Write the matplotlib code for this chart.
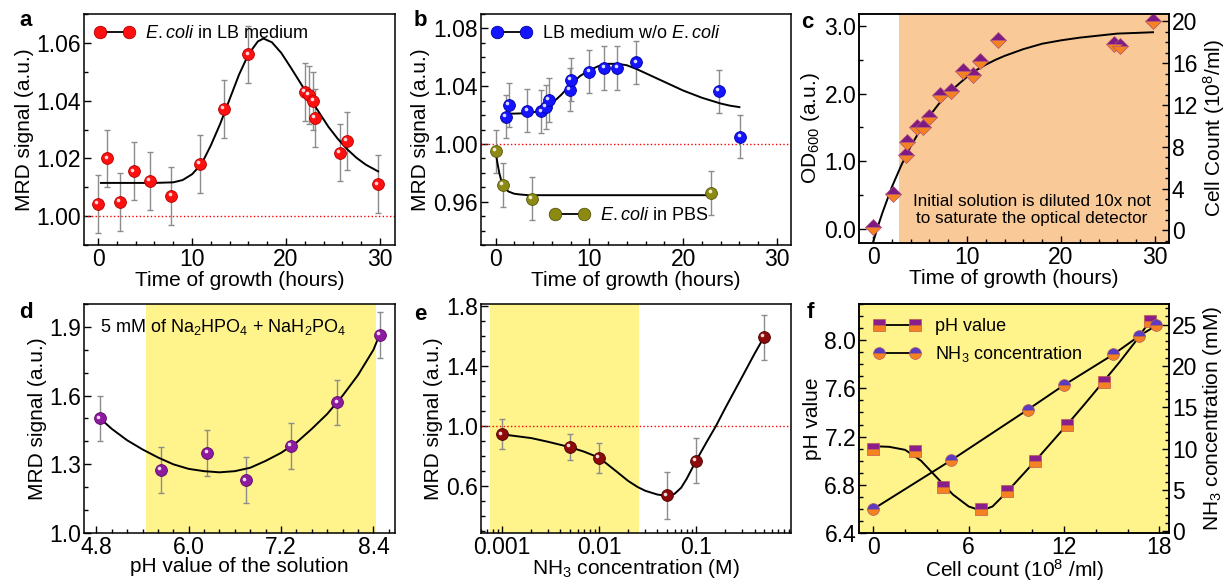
import matplotlib
matplotlib.use("Agg")
import matplotlib.pyplot as plt
from matplotlib.lines import Line2D
from matplotlib.ticker import AutoMinorLocator, FixedLocator, NullFormatter
from matplotlib.transforms import offset_copy

plt.rcParams['font.family'] = ['Liberation Sans', 'DejaVu Sans']
plt.rcParams['mathtext.fontset'] = 'custom'
plt.rcParams['mathtext.rm'] = 'Liberation Sans'
plt.rcParams['mathtext.it'] = 'Liberation Sans:italic'
plt.rcParams['xtick.direction'] = 'in'
plt.rcParams['ytick.direction'] = 'in'
plt.rcParams['axes.linewidth'] = 1.1

# ---- panel a : E.coli in LB medium
a_t = [0, 1.0, 2.3, 3.8, 5.5, 7.8, 10.8, 13.4, 16.0, 22.0, 22.4, 22.9, 23.1, 25.7, 26.5, 29.8]
a_sig = [1.0043, 1.020, 1.005, 1.0155, 1.0122, 1.007, 1.018, 1.037, 1.056, 1.043, 1.042, 1.040, 1.034,
         1.022, 1.026, 1.011]
a_err = [0.010] * 16
a_fit_t = [0.3, 2, 4, 6, 8, 9, 10, 11, 12, 13, 14, 15, 16, 17, 17.6, 18.5, 19.5, 20.5, 21.5, 22.5,
           23.5, 24.5, 25.5, 26.5, 27.5, 28.5, 29.8]
a_fit = [1.0115, 1.0115, 1.0115, 1.0115, 1.0117, 1.0125, 1.0145, 1.018, 1.0245, 1.032, 1.0405, 1.049,
         1.056, 1.0605, 1.0615, 1.0602, 1.0565, 1.0515, 1.0463, 1.041, 1.036, 1.031, 1.0268, 1.0232,
         1.0202, 1.0178, 1.0155]

# ---- panel b : LB medium without E.coli / E.coli in PBS
b_lb_t = [1.1, 1.4, 3.4, 4.9, 5.4, 5.7, 7.9, 8.0, 10.0, 11.6, 13.0, 15.0, 23.8, 26.1]
b_lb = [1.019, 1.027, 1.023, 1.0225, 1.0255, 1.0305, 1.0375, 1.0445, 1.050, 1.0525, 1.0525, 1.0565,
        1.0365, 1.005]
b_lb_err = [0.015] * 14
b_lb_fit_t = [1.1, 2, 3, 4, 5, 6, 7, 8, 9, 10, 11, 12, 13, 14, 15, 16, 17, 18, 19, 20, 21, 22, 23, 24, 25, 26]
b_lb_fit = [1.021, 1.021, 1.0212, 1.0218, 1.0235, 1.028, 1.034, 1.041, 1.047, 1.051, 1.054, 1.0555,
            1.0555, 1.0545, 1.052, 1.049, 1.046, 1.043, 1.040, 1.037, 1.0345, 1.032, 1.030, 1.028,
            1.0265, 1.0255]
b_pbs_t = [0, 0.8, 3.9, 23.0]
b_pbs = [0.995, 0.9715, 0.962, 0.966]
b_pbs_err = [0.015] * 4
b_pbs_fit_t = [0, 0.2, 0.4, 0.6, 0.8, 1.0, 1.4, 2.0, 2.6, 3.5, 23.0]
b_pbs_fit = [0.995, 0.987, 0.980, 0.975, 0.9715, 0.969, 0.967, 0.9655, 0.965, 0.9645, 0.9645]

# ---- panel c : optical density
c_t = [0, 2.1, 3.5, 3.6, 4.7, 5.3, 6.0, 7.1, 8.3, 9.6, 10.6, 11.4, 13.3, 25.6, 26.3, 29.8]
c_od = [0.03, 0.52, 1.1, 1.28, 1.5, 1.5, 1.65, 1.98, 2.04, 2.33, 2.28, 2.48, 2.8, 2.74, 2.70, 3.07]
c_fit_t = [0, 0.5, 1, 1.5, 2, 3, 4, 5, 6, 7, 8, 9, 10, 11, 12, 13, 14, 16, 18, 20, 22, 24, 26, 28, 29.8]
c_fit = [-0.20, 0.03, 0.24, 0.43, 0.62, 0.94, 1.22, 1.46, 1.67, 1.85, 2.00, 2.13, 2.25, 2.35, 2.43,
         2.50, 2.56, 2.66, 2.74, 2.79, 2.83, 2.86, 2.89, 2.90, 2.91]

# ---- panel d : pH of buffer
d_ph = [4.85, 5.64, 6.24, 6.74, 7.33, 7.93, 8.48]
d_sig = [1.50, 1.275, 1.35, 1.23, 1.38, 1.57, 1.866]
d_err = [0.10] * 7
d_fit_ph = [4.85, 5.0, 5.2, 5.4, 5.6, 5.8, 6.0, 6.2, 6.4, 6.6, 6.8, 7.0, 7.2, 7.4, 7.6, 7.8, 8.0,
            8.2, 8.4, 8.48]
d_fit = [1.50, 1.455, 1.405, 1.365, 1.33, 1.30, 1.28, 1.27, 1.265, 1.27, 1.285, 1.315, 1.35, 1.395,
         1.455, 1.52, 1.60, 1.69, 1.80, 1.866]

# ---- panel e : NH3 concentration
e_c = [0.001, 0.005, 0.01, 0.05, 0.1, 0.5]
e_sig = [0.945, 0.86, 0.79, 0.54, 0.77, 1.59]
e_err = [0.10, 0.085, 0.10, 0.155, 0.15, 0.15]
e_fit_c = [0.001, 0.002, 0.003, 0.005, 0.007, 0.01, 0.015, 0.02, 0.025, 0.03, 0.04, 0.05, 0.06,
           0.07, 0.08, 0.1, 0.13, 0.16, 0.2, 0.3, 0.4, 0.5]
e_fit = [0.945, 0.92, 0.895, 0.86, 0.83, 0.79, 0.70, 0.635, 0.595, 0.57, 0.545, 0.537, 0.55, 0.59,
         0.65, 0.77, 0.90, 1.0, 1.12, 1.33, 1.48, 1.59]

# ---- panel f : pH and NH3 vs cell count
f_ph_n = [0, 2.6, 4.4, 6.8, 8.4, 10.2, 12.2, 14.5, 17.4]
f_ph = [7.10, 7.08, 6.78, 6.60, 6.75, 7.00, 7.30, 7.65, 8.16]
f_ph_fit_n = [0, 1, 2, 3, 4, 5, 6, 6.8, 7.5, 8.4, 9.3, 10.2, 11.2, 12.2, 13.3, 14.5, 15.5, 16.5, 17.4]
f_ph_fit = [7.12, 7.115, 7.09, 7.00, 6.86, 6.72, 6.62, 6.585, 6.62, 6.74, 6.87, 7.00, 7.15, 7.30,
            7.47, 7.66, 7.82, 7.99, 8.16]
f_nh3_n = [0, 4.9, 9.7, 12.0, 15.1, 16.7, 17.8]
f_nh3 = [2.7, 8.6, 14.7, 17.7, 21.4, 23.6, 24.9]

YELLOW = '#fff38c'
ORANGE_BG = '#f9c998'
ERR = '#8c8c8c'

fig = plt.figure(figsize=(12.31, 5.81), dpi=100)
W, H = 1231.0, 581.0

TICK = 16.5
LAB = 15
LEG = 13


def rect(l, t, r, b):
    return [l / W, 1 - b / H, (r - l) / W, (b - t) / H]


def style(ax, xminor=None, yminor=None):
    ax.tick_params(which='both', top=False, right=False, labelsize=TICK, width=1, pad=2)
    ax.tick_params(which='major', length=5)
    ax.tick_params(which='minor', length=3)
    if xminor:
        ax.xaxis.set_minor_locator(AutoMinorLocator(xminor))
    if yminor:
        ax.yaxis.set_minor_locator(AutoMinorLocator(yminor))


def right_style(ax2, yminor):
    ax2.yaxis.set_minor_locator(AutoMinorLocator(yminor))
    ax2.tick_params(which='both', labelsize=TICK, width=1, pad=2)
    ax2.tick_params(which='major', length=5)
    ax2.tick_params(which='minor', length=3)


def balls(ax, x, y, err, color, edge):
    ax.errorbar(x, y, yerr=err, fmt='none', ecolor=ERR, elinewidth=1, capsize=2.5, capthick=1, zorder=2)
    ax.plot(x, y, 'o', ms=8.5, mfc=color, mec=edge, mew=0.6, ls='none', zorder=4)
    tr = offset_copy(ax.transData, fig=fig, x=-1.2, y=1.3, units='points')
    ax.plot(x, y, 'o', ms=2.6, mfc='white', mec='none', alpha=0.85, ls='none', transform=tr, zorder=5)


def ball_handle(color, edge):
    return Line2D([], [], color='k', lw=1.3, marker='o', ms=9, mfc=color, mec=edge, mew=0.6)


# a
ax = fig.add_axes(rect(84, 14, 395, 245))
ax.axhline(1.0, color='red', ls=':', lw=1)
ax.plot(a_fit_t, a_fit, color='k', lw=1.4, zorder=3)
balls(ax, a_t, a_sig, a_err, '#ff1010', '#b00000')
ax.set_xlim(-1.5, 31.6)
ax.set_ylim(0.99, 1.07)
ax.set_xticks([0, 10, 20, 30])
ax.set_yticks([1.00, 1.02, 1.04, 1.06])
ax.set_yticklabels(['1.00', '1.02', '1.04', '1.06'])
style(ax, 5, 2)
ax.set_xlabel('Time of growth (hours)', fontsize=LAB, labelpad=0)
ax.set_ylabel('MRD signal (a.u.)', fontsize=LAB, labelpad=2)
ax.legend([ball_handle('#ff1010', '#b00000')], [r'$\it{E.coli}$ in LB medium'], loc='upper left',
          frameon=False, numpoints=2, handlelength=2.2, fontsize=LEG, borderaxespad=0.2,
          handletextpad=0.6)

# b
ax = fig.add_axes(rect(480.5, 14, 791, 245))
ax.axhline(1.0, color='red', ls=':', lw=1)
ax.plot(b_lb_fit_t, b_lb_fit, color='k', lw=1.4, zorder=3)
ax.plot(b_pbs_fit_t, b_pbs_fit, color='k', lw=1.4, zorder=3)
balls(ax, b_lb_t, b_lb, b_lb_err, '#1414ff', '#0000a0')
balls(ax, b_pbs_t, b_pbs, b_pbs_err, '#8c8a12', '#55540a')
ax.set_xlim(-1.6, 31.5)
ax.set_ylim(0.93, 1.09)
ax.set_xticks([0, 10, 20, 30])
ax.set_yticks([0.96, 1.00, 1.04, 1.08])
ax.set_yticklabels(['0.96', '1.00', '1.04', '1.08'])
style(ax, 5, 4)
ax.set_xlabel('Time of growth (hours)', fontsize=LAB, labelpad=0)
ax.set_ylabel('MRD signal (a.u.)', fontsize=LAB, labelpad=2)
leg1 = ax.legend([ball_handle('#1414ff', '#0000a0')], [r'LB medium w/o $\it{E.coli}$'], loc='upper left',
                 frameon=False, numpoints=2, handlelength=2.2, fontsize=LEG, borderaxespad=0.2,
                 handletextpad=0.6)
ax.add_artist(leg1)
ax.legend([ball_handle('#8c8a12', '#55540a')], [r'$\it{E.coli}$ in PBS'], loc='lower left',
          bbox_to_anchor=(0.17, 0.02), frameon=False, numpoints=2, handlelength=2.2, fontsize=LEG,
          handletextpad=0.6)

# c
ax = fig.add_axes(rect(859, 14, 1169, 243))
ax.axvspan(2.75, 40, color=ORANGE_BG, lw=0, zorder=0)
ax.plot(c_fit_t, c_fit, color='k', lw=1.4, zorder=3)
ax.plot(c_t, c_od, 'D', ms=8, fillstyle='top', mfc='#7e1a84', mfcalt='#f58220', mec='#b0507a',
        mew=0.5, ls='none', zorder=4)
ax.set_xlim(-1.5, 31.5)
ax.set_ylim(-0.21, 3.18)
ax.set_xticks([0, 10, 20, 30])
ax.set_yticks([0, 1, 2, 3])
ax.set_yticklabels(['0.0', '1.0', '2.0', '3.0'])
style(ax, 5, 2)
ax.set_xlabel('Time of growth (hours)', fontsize=LAB, labelpad=0)
ax.set_ylabel(r'OD$_{600}$ (a.u.)', fontsize=LAB, labelpad=2)
ax.text(16.9, 0.28, 'Initial solution is diluted 10x not\nto saturate the optical detector',
        ha='center', va='center', fontsize=12.3, linespacing=1.15, zorder=5)
ax2 = ax.twinx()
ax2.set_ylim(-1.2, 20.7)
ax2.set_yticks([0, 4, 8, 12, 16, 20])
right_style(ax2, 4)
ax2.set_ylabel(r'Cell Count (10$^8$/ml)', fontsize=LAB, labelpad=3)

# d
ax = fig.add_axes(rect(84, 304, 395, 533))
ax.axvspan(5.44, 8.43, color=YELLOW, lw=0, zorder=0)
ax.plot(d_fit_ph, d_fit, color='k', lw=1.4, zorder=3)
balls(ax, d_ph, d_sig, d_err, '#8e1aa0', '#5a0a66')
ax.set_xlim(4.64, 8.68)
ax.set_ylim(1.0, 2.0)
ax.set_xticks([4.8, 6.0, 7.2, 8.4])
ax.set_xticklabels(['4.8', '6.0', '7.2', '8.4'])
ax.set_yticks([1.0, 1.3, 1.6, 1.9])
ax.set_yticklabels(['1.0', '1.3', '1.6', '1.9'])
style(ax, 6, 3)
ax.set_xlabel('pH value of the solution', fontsize=LAB, labelpad=-1.5)
ax.set_ylabel('MRD signal (a.u.)', fontsize=LAB, labelpad=2)
ax.text(4.85, 1.9, r'5 mM of Na$_2$HPO$_4$ + NaH$_2$PO$_4$', ha='left', va='center', fontsize=LEG)

# e
ax = fig.add_axes(rect(480.5, 304, 791, 533))
ax.set_xscale('log')
ax.axvspan(7.5e-4, 0.0256, color=YELLOW, lw=0, zorder=0)
ax.axhline(1.0, color='red', ls=':', lw=1)
ax.plot(e_fit_c, e_fit, color='k', lw=1.4, zorder=3)
balls(ax, e_c, e_sig, e_err, '#8c0a0a', '#4a0000')
ax.set_xlim(6.0e-4, 0.95)
ax.set_ylim(0.29, 1.81)
ax.xaxis.set_major_locator(FixedLocator([0.001, 0.01, 0.1, 1]))
ax.set_xticklabels(['0.001', '0.01', '0.1', '1'])
ax.xaxis.set_minor_formatter(NullFormatter())
ax.set_yticks([0.6, 1.0, 1.4, 1.8])
ax.set_yticklabels(['0.6', '1.0', '1.4', '1.8'])
style(ax, None, 4)
ax.set_xlabel(r'NH$_3$ concentration (M)', fontsize=LAB, labelpad=-1.5)
ax.set_ylabel('MRD signal (a.u.)', fontsize=LAB, labelpad=2)

# f
ax = fig.add_axes(rect(859, 304, 1169, 533))
ax.set_facecolor(YELLOW)
ax.plot(f_ph_fit_n, f_ph_fit, color='k', lw=1.4, zorder=3)
ax.plot(f_ph_n, f_ph, 's', ms=8, fillstyle='top', mfc='#8a1e8a', mfcalt='#f58220', mec='#c05a50',
        mew=0.5, ls='none', zorder=4)
ax.set_xlim(-0.9, 18.6)
ax.set_ylim(6.4, 8.3)
ax.set_xticks([0, 6, 12, 18])
ax.set_yticks([6.4, 6.8, 7.2, 7.6, 8.0])
ax.set_yticklabels(['6.4', '6.8', '7.2', '7.6', '8.0'])
style(ax, 3, 4)
ax.set_xlabel(r'Cell count (10$^8$ /ml)', fontsize=LAB, labelpad=-1.5)
ax.set_ylabel('pH value', fontsize=LAB, labelpad=2)
ax2 = ax.twinx()
ax2.plot(f_nh3_n, f_nh3, color='k', lw=1.4, zorder=3)
ax2.plot(f_nh3_n, f_nh3, 'o', ms=8.5, fillstyle='top', mfc='#5a3cc0', mfcalt='#f58220', mec='#b05a60',
         mew=0.5, ls='none', zorder=4)
ax2.set_ylim(-0.2, 27.5)
ax2.set_yticks([0, 5, 10, 15, 20, 25])
right_style(ax2, 5)
ax2.set_ylabel(r'NH$_3$ concentration (mM)', fontsize=LAB, labelpad=3)
h_ph = Line2D([], [], color='k', lw=1.3, marker='s', ms=8, fillstyle='top', mfc='#8a1e8a',
              mfcalt='#f58220', mec='#c05a50', mew=0.5)
h_nh = Line2D([], [], color='k', lw=1.3, marker='o', ms=8.5, fillstyle='top', mfc='#5a3cc0',
              mfcalt='#f58220', mec='#b05a60', mew=0.5)
ax2.legend([h_ph, h_nh], ['pH value', r'NH$_3$ concentration'], loc='upper left', frameon=False,
           numpoints=2, handlelength=2.6, fontsize=LEG, borderaxespad=0.4, handletextpad=0.8,
           labelspacing=0.5)

# panel letters
for letter, (px, py) in zip('abcdef', [(26, 20), (420, 20), (807, 22), (26, 312), (420, 315), (810, 312)]):
    fig.text(px / W, 1 - py / H, letter, fontsize=16, fontweight='bold', ha='center', va='center')

fig.savefig('out.png', dpi=100)
